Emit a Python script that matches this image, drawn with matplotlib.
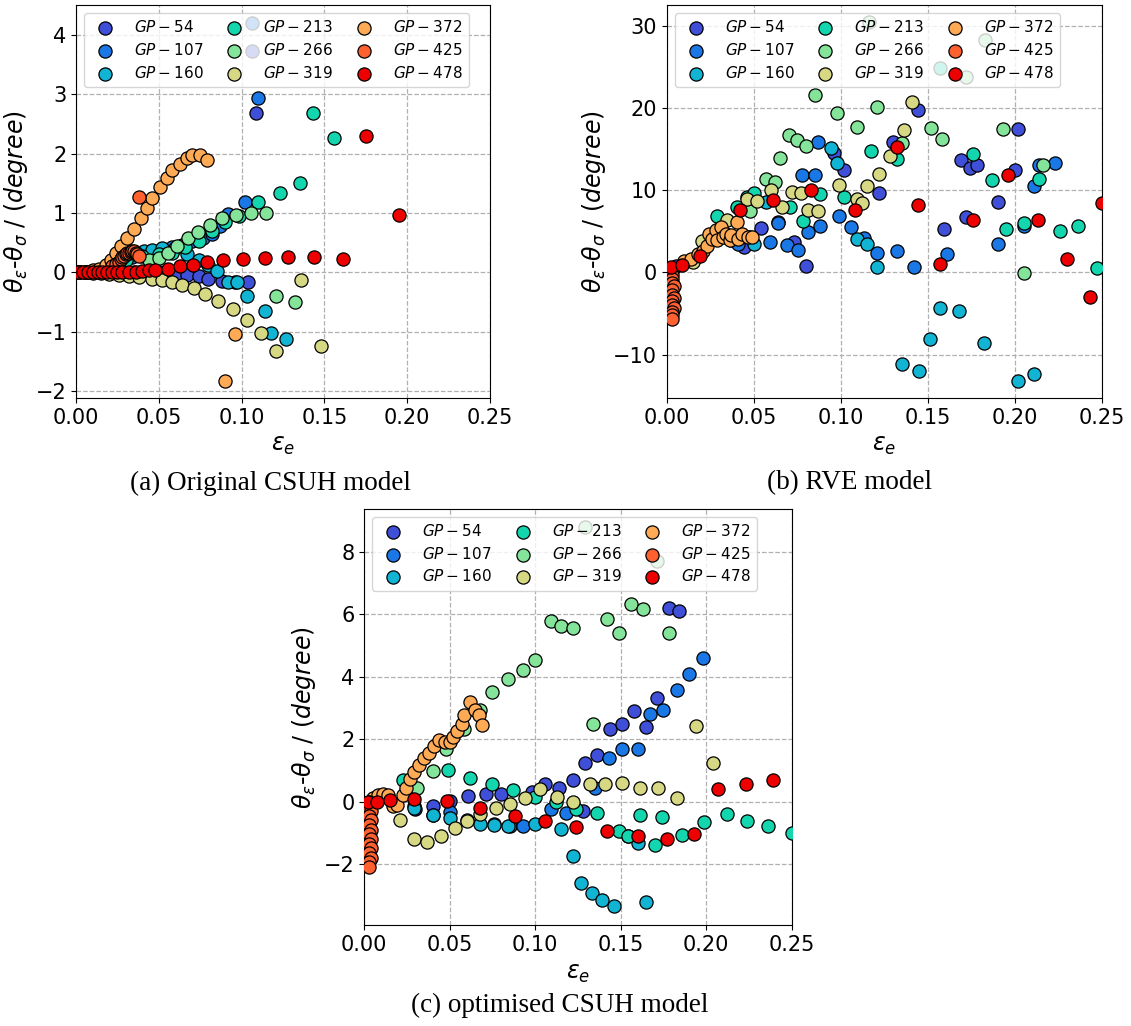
import matplotlib
matplotlib.use('Agg')
import matplotlib.pyplot as plt

# nombres de las series (puntos de Gauss)
labels = ['GP-54', 'GP-107', 'GP-160', 'GP-213', 'GP-266', 'GP-319', 'GP-372', 'GP-425', 'GP-478']
colors = ['#3f4fd8', '#1a78e6', '#12b4d4', '#14d6ae', '#84e49a', '#d6d884', '#ffaa55', '#ff6030', '#ee0000']

# (a) Original CSUH model  -> pares (eps_e, theta_eps - theta_sigma)
a_gp54 = [(0.002, 0), (0.006, 0), (0.01, 0), (0.015, 0), (0.02, 0), (0.025, 0), (0.03, 0), (0.035, 0),
          (0.04, 0), (0.045, 0), (0.05, 0), (0.055, -0.01), (0.061, -0.03), (0.067, -0.05), (0.074, -0.07),
          (0.080, -0.12), (0.088, -0.15), (0.096, -0.16), (0.104, -0.16), (0.106, 3.73), (0.109, 2.68)]
a_gp107 = [(0.002, 0), (0.008, 0.01), (0.015, 0.03), (0.022, 0.08), (0.028, 0.15), (0.034, 0.25), (0.04, 0.32),
           (0.046, 0.36), (0.052, 0.39), (0.058, 0.42), (0.064, 0.46), (0.07, 0.52), (0.0766, 0.57), (0.082, 0.65),
           (0.087, 0.78), (0.092, 0.98), (0.102, 1.18), (0.106, 4.2), (0.110, 2.94)]
a_gp160 = [(0.002, 0), (0.008, 0.01), (0.015, 0.04), (0.022, 0.1), (0.028, 0.2), (0.034, 0.3), (0.041, 0.35),
           (0.046, 0.38), (0.052, 0.41), (0.06, 0.41), (0.067, 0.30), (0.074, 0.21), (0.080, 0.12), (0.085, 0.02),
           (0.092, -0.16), (0.097, -0.16), (0.103, -0.40), (0.114, -0.65), (0.118, -1.03), (0.127, -1.13)]
a_gp213 = [(0.03, 0.2), (0.04, 0.27), (0.05, 0.3), (0.058, 0.33), (0.066, 0.42), (0.074, 0.53), (0.082, 0.70),
           (0.090, 0.84), (0.0985, 0.95), (0.110, 1.18), (0.123, 1.33), (0.135, 1.50), (0.143, 2.68), (0.156, 2.26)]
a_gp266 = [(0.044, 0.2), (0.05, 0.24), (0.0555, 0.33), (0.061, 0.44), (0.0674, 0.57), (0.0734, 0.67),
           (0.0808, 0.80), (0.088, 0.91), (0.0967, 0.97), (0.1055, 1.0), (0.1145, 1.0), (0.121, -0.40), (0.132, -0.50)]
a_gp319 = [(0.005, 0), (0.01, -0.01), (0.015, -0.02), (0.02, -0.03), (0.026, -0.04), (0.032, -0.06), (0.038, -0.08),
           (0.046, -0.11), (0.052, -0.13), (0.058, -0.17), (0.064, -0.21), (0.071, -0.27), (0.078, -0.37),
           (0.086, -0.48), (0.095, -0.62), (0.103, -0.81), (0.112, -1.03), (0.121, -1.33), (0.136, -0.13), (0.148, -1.24)]
a_gp372 = [(0.002, 0), (0.006, 0.01), (0.01, 0.03), (0.014, 0.06), (0.018, 0.12), (0.021, 0.2), (0.024, 0.32),
           (0.027, 0.45), (0.031, 0.58), (0.035, 0.73), (0.039, 0.92), (0.043, 1.09), (0.046, 1.25), (0.051, 1.43),
           (0.055, 1.58), (0.058, 1.72), (0.063, 1.82), (0.067, 1.92), (0.070, 1.97), (0.075, 1.97), (0.079, 1.89),
           (0.090, -1.84), (0.096, -1.04)]
a_gp425 = [(0.022, 0.1), (0.024, 0.14), (0.026, 0.18), (0.027, 0.22), (0.028, 0.25), (0.029, 0.28), (0.030, 0.3),
           (0.031, 0.32), (0.032, 0.33), (0.033, 0.34), (0.034, 0.35), (0.035, 0.35), (0.036, 0.33), (0.037, 0.3),
           (0.038, 0.28), (0.038, 1.27)]
a_gp478 = [(0.001, 0), (0.004, 0), (0.007, 0), (0.01, 0), (0.013, 0), (0.016, 0), (0.019, 0), (0.022, 0), (0.025, 0),
           (0.028, 0), (0.032, 0.005), (0.036, 0.01), (0.04, 0.02), (0.044, 0.03), (0.048, 0.04), (0.0555, 0.06),
           (0.063, 0.1), (0.0705, 0.13), (0.079, 0.17), (0.089, 0.2), (0.101, 0.22), (0.114, 0.24), (0.128, 0.25),
           (0.144, 0.25), (0.161, 0.23), (0.175, 2.29), (0.195, 0.96)]

# (b) RVE model
b_gp54 = [(0.002, 0.3), (0.005, 0.8), (0.037, 3.9), (0.044, 3.1), (0.054, 5.4), (0.064, 6.1), (0.073, 3.7),
          (0.080, 0.8), (0.096, 14.5), (0.102, 12.4), (0.122, 9.7), (0.130, 15.9), (0.144, 19.7), (0.159, 5.3),
          (0.169, 13.7), (0.172, 6.7), (0.174, 12.7), (0.178, 13.0), (0.190, 8.5), (0.200, 12.4), (0.202, 17.4)]
b_gp107 = [(0.003, 0.5), (0.041, 3.5), (0.048, 4.3), (0.059, 3.7), (0.064, 6.0), (0.069, 3.3), (0.0756, 2.7),
           (0.0775, 11.8), (0.081, 4.9), (0.085, 11.8), (0.087, 15.9), (0.088, 5.6), (0.099, 6.9), (0.106, 5.5),
           (0.113, 4.2), (0.121, 2.4), (0.132, 2.6), (0.142, 0.7), (0.161, 2.2), (0.190, 3.5), (0.205, 5.6),
           (0.211, 10.5), (0.214, 13.1), (0.223, 13.3)]
b_gp160 = [(0.003, 0.3), (0.050, 3.4), (0.057, 8.6), (0.094, 15.1), (0.098, 13.3), (0.109, 4.0), (0.115, 3.5),
           (0.121, 0.6), (0.135, -11.1), (0.145, -12.0), (0.151, -8.1), (0.157, -4.3), (0.168, -4.7), (0.182, -8.6),
           (0.202, -13.2), (0.211, -12.4)]
b_gp213 = [(0.029, 6.8), (0.040, 8.0), (0.046, 9.2), (0.050, 9.7), (0.071, 8.0), (0.078, 6.2), (0.088, 9.5),
           (0.102, 9.2), (0.117, 14.7), (0.132, 13.8), (0.157, 24.9), (0.176, 14.4), (0.187, 11.2), (0.195, 5.3),
           (0.205, 6.0), (0.214, 11.3), (0.226, 5.0), (0.236, 5.6), (0.247, 0.5)]
b_gp266 = [(0.048, 7.5), (0.057, 11.4), (0.062, 11.0), (0.065, 13.9), (0.070, 16.7), (0.075, 16.1), (0.080, 15.4),
           (0.085, 21.6), (0.098, 19.4), (0.109, 17.7), (0.116, 30.5), (0.121, 20.1), (0.135, 15.7), (0.152, 17.6),
           (0.158, 16.2), (0.172, 23.7), (0.183, 28.2), (0.193, 17.4), (0.205, -0.1), (0.216, 13.1)]
b_gp319 = [(0.015, 1.2), (0.02, 3.8), (0.0345, 6.4), (0.046, 8.9), (0.052, 8.7), (0.060, 10.0), (0.066, 8.0),
           (0.072, 9.8), (0.077, 9.6), (0.081, 7.6), (0.087, 7.4), (0.099, 10.6), (0.109, 8.9), (0.112, 8.4),
           (0.115, 10.5), (0.122, 12.0), (0.128, 14.2), (0.136, 17.3), (0.141, 20.7)]
b_gp372 = [(0.0097, 1.4), (0.0136, 1.6), (0.018, 2.2), (0.021, 2.6), (0.023, 3.2), (0.024, 4.7), (0.026, 4.1),
           (0.028, 5.1), (0.029, 3.9), (0.031, 5.5), (0.032, 4.3), (0.034, 4.7), (0.036, 3.9), (0.037, 4.5),
           (0.040, 6.1), (0.041, 4.1), (0.043, 4.7), (0.0465, 4.3), (0.049, 4.3)]
b_gp425 = [(0.003, 0.2), (0.003, -0.3), (0.003, -0.8), (0.003, -1.3), (0.004, -1.7), (0.003, -2.2), (0.003, -2.7),
           (0.004, -3.1), (0.003, -3.5), (0.003, -4.0), (0.004, -4.4), (0.003, -4.8), (0.003, -5.2), (0.003, -5.7)]
b_gp478 = [(0.0023, 0.6), (0.0087, 0.9), (0.019, 2.0), (0.042, 7.6), (0.061, 8.8), (0.083, 10.0), (0.108, 7.6),
           (0.132, 15.3), (0.144, 8.2), (0.157, 1.0), (0.176, 6.4), (0.196, 11.8), (0.213, 6.4), (0.230, 1.6),
           (0.243, -3.0), (0.250, 8.4)]

# (c) optimised CSUH model
c_gp54 = [(0.030, -0.25), (0.040, -0.14), (0.050, 0.03), (0.061, 0.18), (0.071, 0.23), (0.080, 0.23), (0.098, 0.30),
          (0.106, 0.55), (0.114, 0.43), (0.122, 0.70), (0.128, -0.31), (0.129, 1.24), (0.136, 1.49), (0.144, 2.32),
          (0.151, 2.49), (0.158, 2.89), (0.165, 2.38), (0.171, 3.33), (0.178, 6.21), (0.184, 6.12)]
c_gp107 = [(0.003, -0.1), (0.029, -0.14), (0.040, -0.42), (0.050, -0.34), (0.060, -0.6), (0.076, -0.71),
           (0.085, -0.77), (0.093, -0.77), (0.109, -0.25), (0.118, -0.37), (0.135, 0.43), (0.143, 1.41),
           (0.151, 1.67), (0.160, 1.69), (0.167, 2.81), (0.175, 2.95), (0.183, 3.58), (0.190, 4.10), (0.198, 4.59)]
c_gp160 = [(0.029, -0.2), (0.040, -0.42), (0.050, -0.54), (0.068, -0.71), (0.076, -0.74), (0.084, -0.77),
           (0.100, -0.71), (0.115, -0.88), (0.122, -1.74), (0.127, -2.62), (0.133, -2.94), (0.139, -3.17),
           (0.146, -3.34), (0.154, -1.1), (0.160, -1.34), (0.165, -3.23)]
c_gp213 = [(0.0226, 0.68), (0.049, 1.0), (0.062, 0.77), (0.075, 0.56), (0.087, 0.38), (0.100, 0.15), (0.112, -0.02),
           (0.124, -0.25), (0.136, -0.37), (0.149, -0.94), (0.154, -1.11), (0.161, -0.42), (0.170, -1.40),
           (0.174, -0.48), (0.186, -1.08), (0.199, -0.65), (0.212, -0.40), (0.224, -0.63), (0.236, -0.79), (0.250, -1.0)]
c_gp266 = [(0.031, 0.43), (0.040, 0.98), (0.048, 1.67), (0.0585, 2.32), (0.068, 2.95), (0.075, 3.50), (0.084, 3.92),
           (0.093, 4.21), (0.100, 4.55), (0.109, 5.78), (0.115, 5.64), (0.122, 5.55), (0.129, 8.79), (0.134, 2.48),
           (0.142, 5.85), (0.149, 5.41), (0.156, 6.33), (0.163, 6.18), (0.171, 7.7), (0.178, 5.41)]
c_gp319 = [(0.021, -0.59), (0.029, -1.21), (0.037, -1.30), (0.045, -1.09), (0.053, -0.84), (0.060, -0.61),
           (0.068, -0.4), (0.077, -0.19), (0.085, -0.08), (0.094, 0.11), (0.103, 0.40), (0.113, 0.15), (0.122, -0.02),
           (0.132, 0.57), (0.141, 0.55), (0.151, 0.61), (0.161, 0.43), (0.172, 0.43), (0.183, 0.11), (0.194, 2.41),
           (0.204, 1.24)]
c_gp372 = [(0.005, 0.1), (0.008, 0.2), (0.011, 0.25), (0.014, 0.22), (0.017, -0.15), (0.019, -0.1), (0.0226, 0.2),
           (0.0245, 0.43), (0.027, 0.71), (0.029, 0.94), (0.032, 1.17), (0.035, 1.40), (0.038, 1.57), (0.041, 1.78),
           (0.044, 1.98), (0.047, 1.92), (0.050, 1.9), (0.052, 2.06), (0.054, 2.26), (0.057, 2.49), (0.0585, 2.78),
           (0.062, 3.18), (0.065, 2.95), (0.067, 2.78), (0.069, 2.44)]
c_gp425 = [(0.003, 0.0), (0.004, -0.1), (0.003, -0.2), (0.004, -0.3), (0.003, -0.45), (0.004, -0.6), (0.003, -0.75),
           (0.004, -0.9), (0.003, -1.05), (0.004, -1.2), (0.003, -1.35), (0.004, -1.5), (0.003, -1.65), (0.004, -1.8),
           (0.003, -1.95), (0.003, -2.1)]
c_gp478 = [(0.002, 0.0), (0.0075, 0.0), (0.015, 0.05), (0.029, 0.08), (0.0485, 0.02), (0.068, -0.22), (0.088, -0.46),
           (0.106, -0.63), (0.124, -0.80), (0.142, -0.94), (0.160, -1.09), (0.177, -1.2), (0.193, -1.05),
           (0.207, 0.40), (0.223, 0.57), (0.239, 0.70)]

panel_a = [a_gp54, a_gp107, a_gp160, a_gp213, a_gp266, a_gp319, a_gp372, a_gp425, a_gp478]
panel_b = [b_gp54, b_gp107, b_gp160, b_gp213, b_gp266, b_gp319, b_gp372, b_gp425, b_gp478]
panel_c = [c_gp54, c_gp107, c_gp160, c_gp213, c_gp266, c_gp319, c_gp372, c_gp425, c_gp478]


def draw_panel(ax, series, ylim):
    for pts, lab, col in zip(series, labels, colors):
        xs = [p[0] for p in pts]
        ys = [p[1] for p in pts]
        ax.scatter(xs, ys, s=90, color=col, edgecolors='black', linewidths=0.9,
                   label='$' + lab + '$', zorder=3)
    ax.set_xlim(0, 0.25)
    ax.set_ylim(*ylim)
    ax.set_xticks([0, 0.05, 0.10, 0.15, 0.20, 0.25])
    ax.grid(True, linestyle='--', color='#b0b0b0', linewidth=0.9)
    ax.set_axisbelow(True)
    ax.tick_params(labelsize=15)
    ax.set_xlabel(r'$\varepsilon_e$', fontsize=17)
    ax.set_ylabel(r'$\theta_{\varepsilon}$-$\theta_{\sigma}$ / $(degree)$', fontsize=17)
    ax.legend(ncol=3, loc='upper left', fontsize=11, handletextpad=0.9, columnspacing=1.0,
              labelspacing=0.45)


fig = plt.figure(figsize=(11.31, 10.26), dpi=100)
ax_a = fig.add_axes([0.0672, 0.612, 0.366, 0.383])
ax_b = fig.add_axes([0.5897, 0.612, 0.3846, 0.383])
ax_c = fig.add_axes([0.322, 0.098, 0.378, 0.406])

draw_panel(ax_a, panel_a, (-2.12, 4.5))
draw_panel(ax_b, panel_b, (-15.3, 32.5))
draw_panel(ax_c, panel_c, (-3.97, 9.38))

cap_font = dict(fontsize=19.5, family='Liberation Serif', ha='center', va='center')
fig.text(270 / 1131, 1 - 483 / 1026, '(a) Original CSUH model', **cap_font)
fig.text(850 / 1131, 1 - 483 / 1026, '(b) RVE model', **cap_font)
fig.text(560 / 1131, 1 - 1005 / 1026, '(c) optimised CSUH model', **cap_font)

fig.savefig('out.png', dpi=100)
